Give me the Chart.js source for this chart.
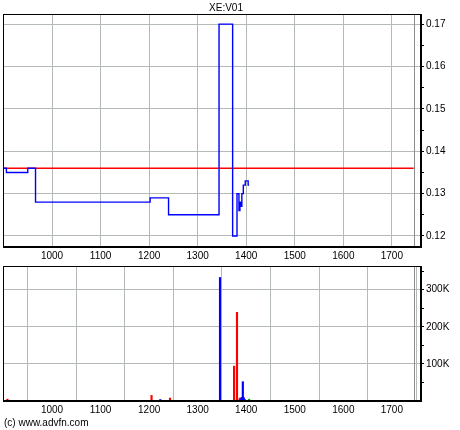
<!DOCTYPE html>
<html>
<head>
<meta charset="utf-8">
<script src="https://cdn.jsdelivr.net/npm/chart.js@4"></script>
<style>
  html, body { margin:0; padding:0; background:#fff; }
  body { width:460px; height:430px; position:relative; overflow:hidden; font-family:"Liberation Sans", Arial, sans-serif; }
  #top { position:absolute; left:0; top:0; }
  #bot { position:absolute; left:0; top:258px; }
  #copy { position:absolute; left:4px; top:417px; font-size:10px; color:#000; white-space:nowrap; }
</style>
</head>
<body>
<canvas id="top" width="449" height="262"></canvas>
<canvas id="bot" width="460" height="172"></canvas>
<div id="copy">(c) www.advfn.com</div>
<script>
// ---- data ----
const chartTitle = "XE:V01";
const priceX = [899, 906, 950, 966, 1202, 1240, 1344, 1372, 1381, 1385, 1387, 1389, 1391, 1394, 1398, 1404, 1406];
const priceY = [0.136, 0.135, 0.136, 0.128, 0.129, 0.125, 0.170, 0.120, 0.130, 0.126, 0.128, 0.127, 0.130, 0.132, 0.133, 0.132, 0.132];
const prevClose = 0.136;
const prevCloseRange = [899, 1745];
const markerX = 1745;

const volUpX = [1223, 1346, 1389, 1391, 1392, 1393, 1395, 1397];
const volUpY = [4000, 333000, 6000, 10000, 8000, 52000, 9000, 4000];
const volDownX = [908, 1205, 1243, 1375, 1381, 1385, 1387];
const volDownY = [5000, 15000, 8000, 94000, 239000, 3000, 8000];
const volFlatX = [1406];
const volFlatY = [5000];

const xTicks = [1000, 1100, 1200, 1300, 1400, 1500, 1600, 1700];
const priceTicks = [0.12, 0.125, 0.13, 0.135, 0.14, 0.145, 0.15, 0.155, 0.16, 0.165, 0.17];
const priceLabels = ["0.12", "", "0.13", "", "0.14", "", "0.15", "", "0.16", "", "0.17"];
const volTicks = [50000, 100000, 150000, 200000, 250000, 300000, 350000];
const volLabels = ["", "100K", "", "200K", "", "300K", ""];

// ---- styles ----
const FONT = { family: "'Liberation Sans', Arial, sans-serif", size: 10 };
const GRID = "rgb(180,186,182)";
const X_MIN = 899, X_MAX = 1760;

const pts = (xs, ys) => xs.map((x, i) => ({ x: x, y: ys[i] }));

const framePlugin = {
  id: 'frame',
  beforeDatasetsDraw(chart) {
    const a = chart.chartArea, ctx = chart.ctx;
    const px = chart.scales.x.getPixelForValue(markerX);
    ctx.save();
    ctx.strokeStyle = "rgb(140,140,140)";
    ctx.lineWidth = 1;
    ctx.beginPath();
    ctx.moveTo(Math.round(px) + 0.5, a.top);
    ctx.lineTo(Math.round(px) + 0.5, a.bottom);
    ctx.stroke();
    ctx.restore();
  },
  afterDraw(chart) {
    const a = chart.chartArea, ctx = chart.ctx;
    ctx.save();
    ctx.strokeStyle = "#000";
    ctx.lineWidth = 1;
    ctx.strokeRect(Math.round(a.left) + 0.5, Math.round(a.top) + 0.5,
                   Math.round(a.right - a.left) - 1, Math.round(a.bottom - a.top) - 1);
    ctx.restore();
  }
};

function xScale(height) {
  return {
    type: 'linear', min: X_MIN, max: X_MAX,
    afterBuildTicks: s => { s.ticks = xTicks.map(v => ({ value: v })); },
    afterFit: s => { s.height = height; },
    ticks: { font: FONT, color: "#000", padding: 3, maxRotation: 0, autoSkip: false,
             callback: v => String(v) },
    grid: { color: GRID, lineWidth: 1, drawTicks: false },
    border: { display: true, color: "#000" }
  };
}

Chart.defaults.animation = false;

new Chart(document.getElementById('top'), {
  type: 'line',
  data: {
    datasets: [
      { data: pts(priceX, priceY), borderColor: "rgb(0,0,255)", borderWidth: 1.4,
        pointRadius: 0, stepped: 'before', fill: false, order: 1 },
      { data: pts(prevCloseRange, [prevClose, prevClose]), borderColor: "rgb(255,0,0)",
        borderWidth: 1.5, pointRadius: 0, fill: false, order: 2 }
    ]
  },
  options: {
    responsive: false, devicePixelRatio: 1,
    layout: { padding: { left: 3, right: 0, top: 0, bottom: 0 } },
    plugins: {
      legend: { display: false }, tooltip: { enabled: false },
      title: { display: true, text: chartTitle, color: "#000", font: { ...FONT, weight: 'normal' },
               padding: { top: 2, bottom: 0 } }
    },
    scales: {
      x: xScale(15),
      y: {
        type: 'linear', position: 'right', min: 0.1174, max: 0.1724,
        afterBuildTicks: s => { s.ticks = priceTicks.map(v => ({ value: v })); },
        afterFit: s => { s.width = 28; },
        ticks: { font: FONT, color: "#000", padding: 2, autoSkip: false,
                 callback: (v, i) => priceLabels[i] },
        grid: { color: c => (priceLabels[c.index] ? GRID : "rgba(0,0,0,0)"),
                tickColor: "#000", tickLength: 3, lineWidth: 1 },
        border: { display: true, color: "#000" }
      }
    }
  },
  plugins: [framePlugin]
});

new Chart(document.getElementById('bot'), {
  type: 'bar',
  data: {
    datasets: [
      { data: pts(volUpX, volUpY), backgroundColor: "rgb(0,0,255)", barThickness: 1.5, grouped: false },
      { data: pts(volDownX, volDownY), backgroundColor: "rgb(255,0,0)", barThickness: 1.5, grouped: false },
      { data: pts(volFlatX, volFlatY), backgroundColor: "rgb(0,170,0)", barThickness: 1.5, grouped: false }
    ]
  },
  options: {
    responsive: false, devicePixelRatio: 1,
    layout: { padding: { left: 3, right: 0, top: 4, bottom: 0 } },
    plugins: { legend: { display: false }, tooltip: { enabled: false } },
    scales: {
      x: { ...xScale(29), offset: false },
      y: {
        type: 'linear', position: 'right', min: 0, max: 364000,
        afterBuildTicks: s => { s.ticks = volTicks.map(v => ({ value: v })); },
        afterFit: s => { s.width = 39; },
        ticks: { font: FONT, color: "#000", padding: 2, autoSkip: false,
                 callback: (v, i) => volLabels[i] },
        grid: { color: c => (volLabels[c.index] ? GRID : "rgba(0,0,0,0)"),
                tickColor: "#000", tickLength: 3, lineWidth: 1 },
        border: { display: true, color: "#000" }
      }
    }
  },
  plugins: [framePlugin]
});
</script>
</body>
</html>
